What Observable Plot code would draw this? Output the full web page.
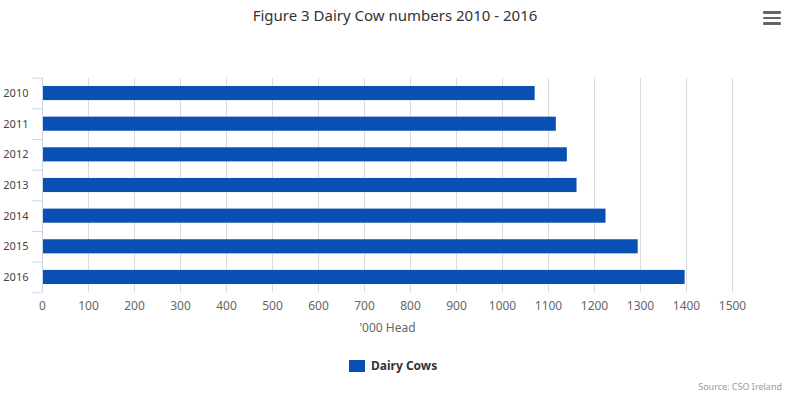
<!DOCTYPE html>
<html>
<head>
<meta charset="utf-8">
<script src="https://cdn.jsdelivr.net/npm/d3@7"></script>
<script src="https://cdn.jsdelivr.net/npm/@observablehq/plot@0.6"></script>
<style>
  html, body { margin: 0; padding: 0; background: #fff; }
  #wrap { position: relative; width: 790px; height: 395px; font-family: "Noto Sans", "Open Sans", sans-serif; overflow: hidden; }
  #title { position: absolute; left: 0; top: 5px; width: 790px; text-align: center; font-size: 15px; color: #333; }
  #menu { position: absolute; left: 763px; top: 11px; width: 18px; }
  #menu div { height: 2.5px; background: #666; margin-bottom: 3px; border-radius: 1px; }
  #chart { position: absolute; left: 0; top: 40px; }
  #legend { position: absolute; left: 349px; top: 357px; font-size: 12px; font-weight: bold; color: #333; display: flex; align-items: center; }
  #legend span.sw { display: inline-block; width: 16px; height: 12px; background: #0a50b4; margin-right: 6px; }
  #source { position: absolute; right: 8px; top: 380px; font-size: 9px; color: #999; }
</style>
</head>
<body>
<div id="wrap">
  <div id="title">Figure 3 Dairy Cow numbers 2010 - 2016</div>
  <div id="menu"><div></div><div></div><div></div></div>
  <div id="chart"></div>
  <div id="legend"><span class="sw"></span><span id="legendText"></span></div>
  <div id="source">Source: CSO Ireland</div>
</div>
<script>
const years = ["2010", "2011", "2012", "2013", "2014", "2015", "2016"];
const dairyCows = [1071, 1117, 1141, 1162, 1225, 1295, 1397];
const xTicks = [0, 100, 200, 300, 400, 500, 600, 700, 800, 900, 1000, 1100, 1200, 1300, 1400, 1500];
const seriesName = "Dairy Cows";
const xLabel = "'000 Head";

const data = years.map((y, i) => ({year: y, value: dairyCows[i]}));
const H = 300, MT = 37.7, MB = 47.7;
const step = (H - MT - MB) / years.length;
const blue = "#0a50b4";

const chart = Plot.plot({
  width: 790,
  height: H,
  marginTop: MT,
  marginBottom: MB,
  marginLeft: 42,
  marginRight: 58,
  style: {fontFamily: "'Noto Sans', 'Open Sans', sans-serif", fontSize: "11px", color: "#666", background: "transparent"},
  x: {domain: [0, 1500]},
  y: {domain: years, paddingInner: 0.54, paddingOuter: 0.27, round: false},
  marks: [
    Plot.gridX(xTicks, {stroke: "#dadada", strokeOpacity: 1}),
    Plot.barX(data, {x: "value", y: "year", fill: blue}),
    Plot.ruleX([0], {stroke: "#ccd6eb"}),
    Plot.axisX(xTicks, {tickSize: 0, tickPadding: 9, fill: "#666", tickFormat: d3.format("d"), label: xLabel, labelAnchor: "center", labelArrow: false, labelOffset: 39, fontSize: 12}),
    Plot.axisY({tickSize: 0, tickPadding: 14, fill: "#444", label: null}),
    Plot.axisY({tickSize: 10, fill: "none", stroke: "#ccd6eb", dy: -step / 2, label: null}),
    Plot.axisY([years[years.length - 1]], {tickSize: 10, fill: "none", stroke: "#ccd6eb", dy: step / 2, label: null})
  ]
});
document.getElementById("chart").appendChild(chart);
document.getElementById("legendText").textContent = seriesName;
document.querySelector("#legend .sw").style.background = blue;
</script>
</body>
</html>
